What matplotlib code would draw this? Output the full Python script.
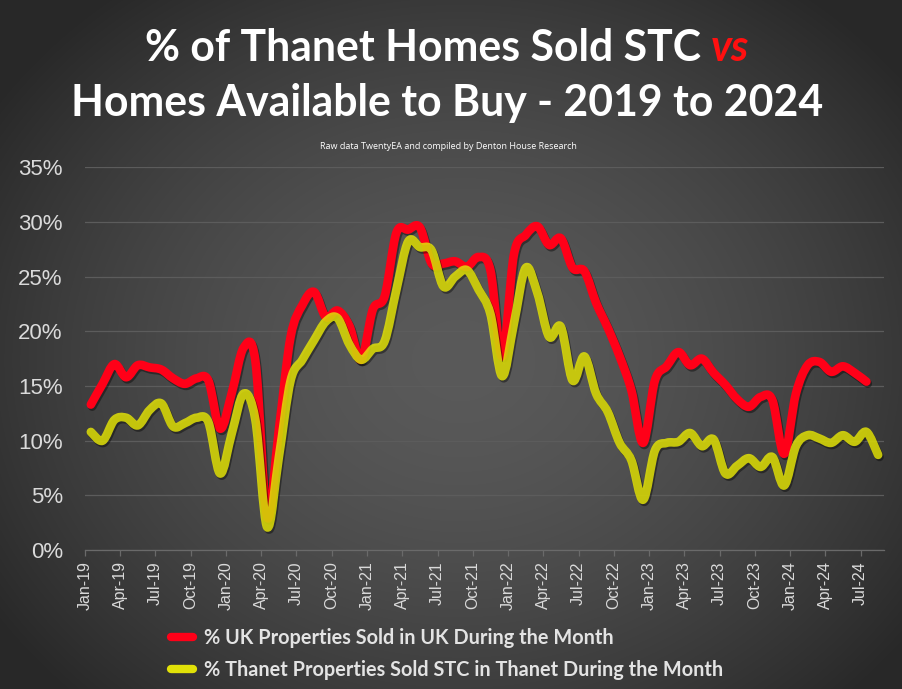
import numpy as np
import matplotlib
matplotlib.use('Agg')
import matplotlib.pyplot as plt
from matplotlib.path import Path
from matplotlib.patches import PathPatch
from matplotlib.lines import Line2D
import matplotlib.patheffects as pe
from matplotlib.ticker import FuncFormatter

# ---------------- data ----------------
tick_labels = ['Jan-19', 'Apr-19', 'Jul-19', 'Oct-19', 'Jan-20', 'Apr-20', 'Jul-20', 'Oct-20',
               'Jan-21', 'Apr-21', 'Jul-21', 'Oct-21', 'Jan-22', 'Apr-22', 'Jul-22', 'Oct-22',
               'Jan-23', 'Apr-23', 'Jul-23', 'Oct-23', 'Jan-24', 'Apr-24', 'Jul-24']

# % UK properties sold during the month (Jan-19 .. Jul-24)
uk_pct = [13.3, 15.2, 17.0, 15.8, 16.9, 16.7, 16.5, 15.7, 15.2, 15.7, 15.5, 11.1,
          14.4, 18.5, 17.3, 3.0, 11.0, 19.5, 22.4, 23.6, 21.3, 21.9, 20.5, 17.4,
          22.0, 23.2, 29.0, 29.3, 29.5, 26.2, 26.2, 26.4, 25.9, 26.8, 25.6, 17.7,
          27.0, 28.8, 29.6, 27.9, 28.5, 25.8, 25.5, 22.6, 20.3, 17.7, 14.6, 9.8,
          15.5, 16.8, 18.1, 16.9, 17.5, 16.2, 15.1, 13.8, 13.1, 14.0, 13.7, 8.8,
          14.3, 16.9, 17.2, 16.3, 16.8, 16.2, 15.4]

# % Thanet properties sold STC during the month (Jan-19 .. Aug-24)
thanet_pct = [10.8, 10.0, 11.9, 12.1, 11.4, 12.8, 13.4, 11.3, 11.6, 12.1, 11.7, 7.0,
              10.7, 14.3, 11.9, 2.1, 8.5, 15.5, 17.4, 19.2, 20.9, 21.2, 18.8, 17.4,
              18.4, 19.1, 23.8, 28.2, 27.7, 27.4, 24.1, 25.0, 25.6, 23.8, 21.6, 15.9,
              20.7, 25.8, 23.5, 19.5, 20.4, 15.5, 17.7, 14.3, 12.6, 9.8, 8.2, 4.6,
              9.1, 9.8, 9.9, 10.7, 9.5, 10.1, 7.0, 7.7, 8.4, 7.6, 8.5, 5.9,
              9.5, 10.5, 10.2, 9.8, 10.5, 9.9, 10.8, 8.7]

uk_label = '% UK Properties Sold in UK During the Month'
thanet_label = '% Thanet Properties Sold STC in Thanet During the Month'

RED = '#FF0018'
YEL = '#E1E108'
YEL_ALPHA = 0.85
TXT = '#DADADA'
TITLE_FONT = 'Lato'


def smooth_path(ys):
    """Excel-style smoothed line as a cubic Bezier path through the data points."""
    pts = np.column_stack([np.arange(len(ys), dtype=float), np.asarray(ys, float)])
    n = len(pts)
    verts = [pts[0]]
    codes = [Path.MOVETO]
    for i in range(n - 1):
        p0 = pts[i - 1] if i > 0 else pts[i]
        p1 = pts[i]
        p2 = pts[i + 1]
        p3 = pts[i + 2] if i + 2 < n else pts[i + 1]
        verts += [p1 + (p2 - p0) / 6.0, p2 - (p3 - p1) / 6.0, p2]
        codes += [Path.CURVE4] * 3
    return Path(verts, codes)


fig = plt.figure(figsize=(9.03, 6.89), dpi=100)

# background radial gradient
bg = fig.add_axes([0, 0, 1, 1], zorder=-10)
yy, xx = np.mgrid[0:689, 0:903]
r = np.sqrt(((xx - 460) / 560.0) ** 2 + ((yy - 360) / 470.0) ** 2)
r = np.clip(r, 0, 1)
v = 0x5A - (0x5A - 0x28) * r ** 1.6
img = np.dstack([v, v, v]) / 255.0
bg.imshow(img, aspect='auto', extent=[0, 1, 0, 1])
bg.axis('off')

ax = fig.add_axes([0.0941, 0.2017, 0.8849, 0.5555])
ax.patch.set_alpha(0)
ax.set_xlim(-0.5, 67.5)
ax.set_ylim(0, 35)

shadow = [pe.SimpleLineShadow(offset=(1.0, -1.5), shadow_color='black', alpha=0.4, rho=1.0),
          pe.Normal()]
for ys, col, alpha, z in [(uk_pct, RED, 1.0, 3), (thanet_pct, YEL, YEL_ALPHA, 4)]:
    patch = PathPatch(smooth_path(ys), facecolor='none', edgecolor=col, lw=6.2,
                      alpha=alpha, zorder=z, capstyle='round', joinstyle='round')
    patch.set_path_effects(shadow)
    ax.add_patch(patch)

# grid & axes
ax.set_yticks(np.arange(0, 36, 5))
ax.yaxis.set_major_formatter(FuncFormatter(lambda v, p: f'{int(v)}%'))
ax.grid(axis='y', color='#5C5C5C', lw=0.9)
ax.set_axisbelow(True)
for s in ['top', 'right', 'left']:
    ax.spines[s].set_visible(False)
ax.spines['bottom'].set_color('#6A6A6A')
ax.spines['bottom'].set_linewidth(0.9)
ax.tick_params(axis='y', length=0, pad=16, labelsize=16, labelcolor=TXT)
ax.set_xticks(np.arange(-0.5, 67, 3))
ax.set_xticklabels(tick_labels, rotation=90)
ax.tick_params(axis='x', length=4, color='#6A6A6A', width=0.9, pad=4,
               labelsize=11.5, labelcolor=TXT)
for lab in ax.get_xticklabels() + ax.get_yticklabels():
    lab.set_family('Liberation Sans')

# titles
renderer = fig.canvas.get_renderer()
t_kw = dict(fontsize=30.8, fontweight='bold', family=TITLE_FONT, va='center')
part1 = fig.text(0, 0.931, '% of Thanet Homes Sold STC ', color='white', ha='left', **t_kw)
part2 = fig.text(0, 0.931, 'vs', color='#FF1010', ha='left', style='italic', **t_kw)
w1 = part1.get_window_extent(renderer).width / fig.bbox.width
w2 = part2.get_window_extent(renderer).width / fig.bbox.width
x0 = 0.495 - (w1 + w2) / 2
part1.set_x(x0)
part2.set_x(x0 + w1)
fig.text(0.495, 0.851, 'Homes Available to Buy - 2019 to 2024', color='white', ha='center', **t_kw)
fig.text(0.497, 0.788, 'Raw data TwentyEA and compiled by Denton House Research',
         color='white', ha='center', va='center', fontsize=6.5, family='Open Sans')

# legend
handles = [Line2D([], [], color=RED, lw=6, solid_capstyle='round'),
           Line2D([], [], color=YEL, lw=6, solid_capstyle='round')]
leg = fig.legend(handles, [uk_label, thanet_label], loc='upper left',
                 bbox_to_anchor=(0.17, 0.115), frameon=False, handlelength=1.1,
                 handletextpad=0.55, labelspacing=0.6,
                 prop=dict(family=TITLE_FONT, weight='bold', size=14.3))
for t in leg.get_texts():
    t.set_color('#E3E3E3')

fig.savefig('out.png', dpi=100)
